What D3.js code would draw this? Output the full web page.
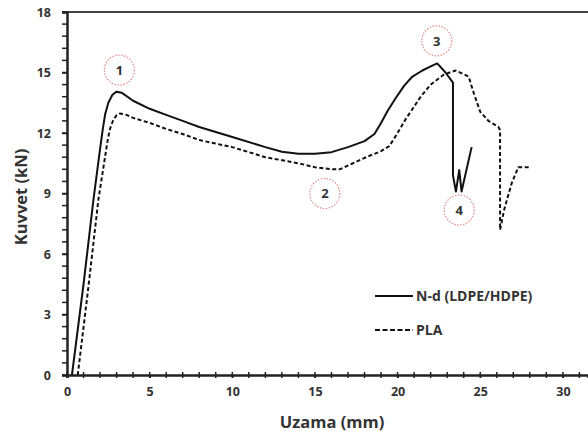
<!DOCTYPE html>
<html>
<head>
<meta charset="utf-8">
<script src="https://cdn.jsdelivr.net/npm/d3@7"></script>
<style>
  body { margin: 0; background: #fff; }
  text { font-family: "Open Sans", Lato, sans-serif; font-weight: bold; fill: #333; }
</style>
</head>
<body>
<svg width="588" height="436"></svg>
<script>
// N-d (LDPE/HDPE) curve: elongation (mm), force (kN)
var ndX = [0.3, 1.0, 1.6, 2.0, 2.15, 2.3, 2.5, 2.75, 3.0, 3.3, 4, 5, 6, 7, 8, 10, 12, 13, 14, 15, 16, 17, 18, 18.6, 19.0, 19.4, 19.9, 20.4, 20.9, 21.5, 22.0, 22.4, 22.9, 23.35, 23.35, 23.53, 23.73, 23.87, 24.48];
var ndY = [0, 4.5, 8.7, 11.2, 12.1, 12.9, 13.5, 13.9, 14.05, 14.0, 13.6, 13.2, 12.9, 12.6, 12.3, 11.8, 11.3, 11.07, 10.97, 10.97, 11.05, 11.3, 11.6, 11.95, 12.5, 13.1, 13.75, 14.35, 14.8, 15.1, 15.3, 15.45, 15.0, 14.5, 9.9, 9.1, 10.16, 9.1, 11.3];

// PLA curve
var plaX = [0.65, 1.3, 1.9, 2.3, 2.45, 2.6, 2.8, 3.0, 3.2, 3.6, 4, 5, 6, 7, 8, 10, 12, 14, 15, 16, 16.5, 17.3, 18.1, 19.0, 19.5, 20.0, 20.5, 21.4, 22.0, 22.8, 23.5, 24.3, 24.6, 25.0, 25.5, 26.1, 26.2, 26.2, 26.45, 26.9, 27.3, 28.0];
var plaY = [0, 4.4, 8.7, 10.8, 11.6, 12.2, 12.65, 12.88, 12.97, 12.9, 12.75, 12.5, 12.2, 11.95, 11.65, 11.3, 10.8, 10.5, 10.3, 10.2, 10.2, 10.5, 10.8, 11.1, 11.35, 12.0, 12.7, 13.8, 14.4, 14.9, 15.1, 14.8, 14.0, 13.05, 12.6, 12.3, 12.15, 7.2, 8.2, 9.5, 10.3, 10.3];

// numbered markers
var markLabels = ["1", "2", "3", "4"];
var markX = [3.17, 15.6, 22.37, 23.73];
var markY = [15.12, 9.0, 16.57, 8.18];

var xTicks = [0, 5, 10, 15, 20, 25, 30];
var yTicks = [0, 3, 6, 9, 12, 15, 18];
var seriesNames = ["N-d (LDPE/HDPE)", "PLA"];

var svg = d3.select("svg");
var x = d3.scaleLinear().domain([0, 31.52]).range([67, 588]);
var y = d3.scaleLinear().domain([0, 18]).range([375, 12]);

// minor ticks
var xMinor = d3.range(0, 32, 1);
var yMinor = d3.range(0, 18.001, 0.6);

svg.append("g").selectAll("line").data(xMinor).enter().append("line")
  .attr("x1", function(d){ return x(d); }).attr("x2", function(d){ return x(d); })
  .attr("y1", y(0) - 3).attr("y2", y(0) + 3)
  .attr("stroke", "#222").attr("stroke-width", 1.5);

svg.append("g").selectAll("line").data(yMinor).enter().append("line")
  .attr("x1", x(0) - 5).attr("x2", x(0))
  .attr("y1", function(d){ return y(d); }).attr("y2", function(d){ return y(d); })
  .attr("stroke", "#222").attr("stroke-width", 1.5);

// top frame line
svg.append("line")
  .attr("x1", x(0)).attr("x2", 588).attr("y1", y(18)).attr("y2", y(18))
  .attr("stroke", "#444").attr("stroke-width", 2);

// axes
var xAxis = svg.append("g").attr("transform", "translate(0," + y(0) + ")")
  .call(d3.axisBottom(x).tickValues(xTicks).tickSize(3).tickPadding(9));
var yAxis = svg.append("g").attr("transform", "translate(" + x(0) + ",0)")
  .call(d3.axisLeft(y).tickValues(yTicks).tickSize(5).tickPadding(11));

[xAxis, yAxis].forEach(function(a){
  a.select(".domain").attr("stroke", "#222").attr("stroke-width", 2.5);
  a.selectAll(".tick line").attr("stroke", "#222").attr("stroke-width", 1.5);
  a.selectAll(".tick text").style("font-size", "12.5px").attr("fill", "#333");
});

// axis titles
svg.append("text").attr("x", 332).attr("y", 428)
  .attr("text-anchor", "middle").style("font-size", "16.5px").text("Uzama (mm)");
svg.append("text").attr("transform", "translate(27,197) rotate(-90)")
  .attr("text-anchor", "middle").style("font-size", "16.5px").text("Kuvvet (kN)");

// curves
var line = d3.line()
  .x(function(d){ return x(d[0]); })
  .y(function(d){ return y(d[1]); });

svg.append("path").datum(d3.zip(ndX, ndY))
  .attr("d", line).attr("fill", "none")
  .attr("stroke", "#111").attr("stroke-width", 2).attr("stroke-linejoin", "round");

svg.append("path").datum(d3.zip(plaX, plaY))
  .attr("d", line).attr("fill", "none")
  .attr("stroke", "#111").attr("stroke-width", 2).attr("stroke-dasharray", "4,2.5");

// numbered markers
var marks = svg.append("g").selectAll("g").data(markLabels).enter().append("g")
  .attr("transform", function(d, i){ return "translate(" + x(markX[i]) + "," + y(markY[i]) + ")"; });
marks.append("circle").attr("r", 15)
  .attr("fill", "none").attr("stroke", "#e58a8a").attr("stroke-width", 1.2)
  .attr("stroke-dasharray", "1.5,1.5");
marks.append("text").attr("text-anchor", "middle").attr("dy", "0.36em")
  .style("font-size", "13px").attr("fill", "#222").text(function(d){ return d; });

// legend
var legend = svg.append("g").selectAll("g").data(seriesNames).enter().append("g")
  .attr("transform", function(d, i){ return "translate(375," + (296 + i * 34) + ")"; });
legend.append("line").attr("x1", 0).attr("x2", 38)
  .attr("stroke", "#111").attr("stroke-width", 2)
  .attr("stroke-dasharray", function(d, i){ return i ? "5,2.5" : null; });
legend.append("text").attr("x", 41).attr("dy", "0.35em")
  .style("font-size", "14px").text(function(d){ return d; });
</script>
</body>
</html>
